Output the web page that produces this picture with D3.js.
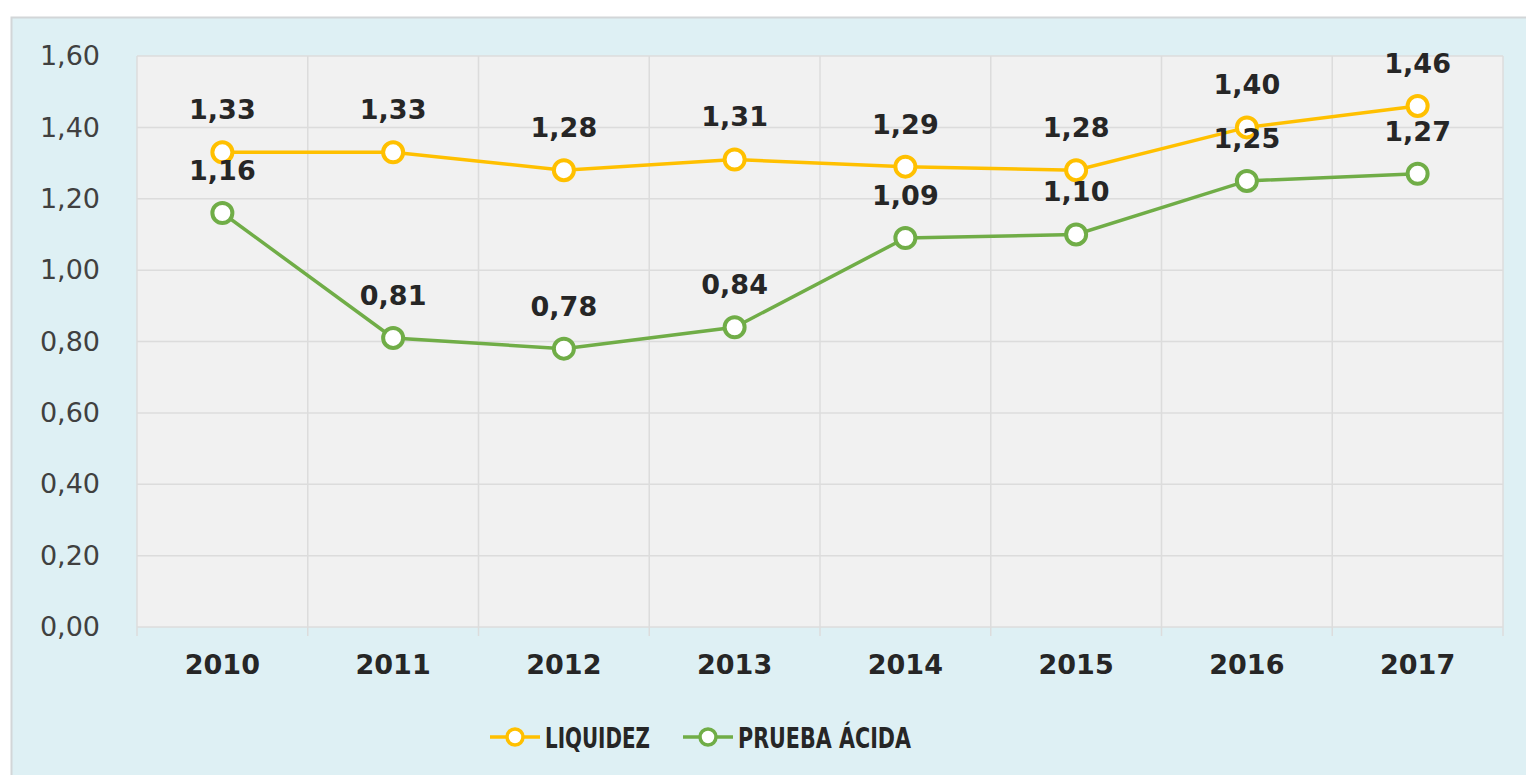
<!DOCTYPE html>
<html>
<head>
<meta charset="utf-8">
<script src="https://cdn.jsdelivr.net/npm/d3@7"></script>
<style>
  body { margin: 0; background: #fff; }
  svg { display: block; font-family: "DejaVu Sans", Verdana, sans-serif; }
</style>
</head>
<body>
<div id="chart"></div>
<script>
// data
var years = ["2010", "2011", "2012", "2013", "2014", "2015", "2016", "2017"];
var liquidez = [1.33, 1.33, 1.28, 1.31, 1.29, 1.28, 1.40, 1.46];
var pruebaAcida = [1.16, 0.81, 0.78, 0.84, 1.09, 1.10, 1.25, 1.27];
var yTicks = [0, 0.2, 0.4, 0.6, 0.8, 1.0, 1.2, 1.4, 1.6];

var series = [
    { name: "LIQUIDEZ", values: liquidez, color: "#FFC000" },
    { name: "PRUEBA ÁCIDA", values: pruebaAcida, color: "#70AD47" }
];

var W = 1526, H = 775;
var plot = { left: 137, right: 1503, top: 56, bottom: 627 };

var fmt = function (v) { return d3.format(".2f")(v).replace(".", ","); };

var svg = d3.select("#chart").append("svg")
    .attr("width", W)
    .attr("height", H);

// outer panel
svg.append("rect")
    .attr("x", 11.5).attr("y", 17.5)
    .attr("width", W).attr("height", H)
    .attr("fill", "#DEF0F4")
    .attr("stroke", "#D2D6D8")
    .attr("stroke-width", 2);

var x = d3.scaleBand()
    .domain(years)
    .range([plot.left, plot.right])
    .paddingInner(0).paddingOuter(0);

var y = d3.scaleLinear()
    .domain([0, 1.6])
    .range([plot.bottom, plot.top]);

// plot background
svg.append("rect")
    .attr("x", plot.left).attr("y", plot.top)
    .attr("width", plot.right - plot.left)
    .attr("height", plot.bottom - plot.top)
    .attr("fill", "#F1F1F1");

// horizontal gridlines
svg.append("g")
    .selectAll("line")
    .data(yTicks)
    .enter().append("line")
    .attr("x1", plot.left).attr("x2", plot.right)
    .attr("y1", function (d) { return y(d); })
    .attr("y2", function (d) { return y(d); })
    .attr("stroke", "#DCDCDC")
    .attr("stroke-width", 1.5);

// vertical gridlines at category edges (with small ticks below)
var edges = years.map(function (d) { return x(d); }).concat([plot.right]);
svg.append("g")
    .selectAll("line")
    .data(edges)
    .enter().append("line")
    .attr("x1", function (d) { return d; })
    .attr("x2", function (d) { return d; })
    .attr("y1", plot.top)
    .attr("y2", plot.bottom + 9)
    .attr("stroke", "#DCDCDC")
    .attr("stroke-width", 1.5);

// y axis labels
var yAxis = d3.axisLeft(y)
    .tickValues(yTicks)
    .tickFormat(fmt)
    .tickSize(0)
    .tickPadding(37);

var yg = svg.append("g")
    .attr("transform", "translate(" + plot.left + ",0)")
    .call(yAxis);
yg.select(".domain").remove();
yg.selectAll("text")
    .attr("font-family", "DejaVu Sans, sans-serif")
    .attr("font-size", 27)
    .attr("fill", "#404040");

// x axis labels
var xAxis = d3.axisBottom(x).tickSize(0).tickPadding(28);
var xg = svg.append("g")
    .attr("transform", "translate(0," + plot.bottom + ")")
    .call(xAxis);
xg.select(".domain").remove();
xg.selectAll("text")
    .attr("font-family", "DejaVu Sans, sans-serif")
    .attr("font-size", 27)
    .attr("font-weight", "bold")
    .attr("fill", "#262626");

var cx = function (d, i) { return x(years[i]) + x.bandwidth() / 2; };

var line = d3.line()
    .x(function (d, i) { return cx(d, i); })
    .y(function (d) { return y(d); });

var sg = svg.selectAll(".series")
    .data(series)
    .enter().append("g")
    .attr("class", "series");

sg.append("path")
    .attr("d", function (s) { return line(s.values); })
    .attr("fill", "none")
    .attr("stroke", function (s) { return s.color; })
    .attr("stroke-width", 3.5);

sg.each(function (s) {
    var g = d3.select(this);
    g.selectAll("circle")
        .data(s.values)
        .enter().append("circle")
        .attr("cx", cx)
        .attr("cy", function (d) { return y(d); })
        .attr("r", 10)
        .attr("fill", "#fff")
        .attr("stroke", s.color)
        .attr("stroke-width", 4);
    g.selectAll("text")
        .data(s.values)
        .enter().append("text")
        .attr("x", cx)
        .attr("y", function (d) { return y(d) - 33; })
        .attr("text-anchor", "middle")
        .attr("font-size", 27)
        .attr("font-weight", "bold")
        .attr("fill", "#262626")
        .text(fmt);
});

// legend
var legendItems = [
    { s: series[0], x: 490, w: 105 },
    { s: series[1], x: 683, w: 173 }
];
var lg = svg.append("g").attr("transform", "translate(0,737)");
legendItems.forEach(function (it) {
    lg.append("line")
        .attr("x1", it.x).attr("x2", it.x + 50)
        .attr("y1", 0).attr("y2", 0)
        .attr("stroke", it.s.color)
        .attr("stroke-width", 3.5);
    lg.append("circle")
        .attr("cx", it.x + 25).attr("cy", 0)
        .attr("r", 8)
        .attr("fill", "#fff")
        .attr("stroke", it.s.color)
        .attr("stroke-width", 3.5);
    lg.append("text")
        .attr("x", it.x + 55)
        .attr("y", 11)
        .attr("font-size", 29)
        .attr("font-weight", "bold")
        .attr("fill", "#262626")
        .attr("textLength", it.w)
        .attr("lengthAdjust", "spacingAndGlyphs")
        .text(it.s.name);
});
</script>
</body>
</html>
